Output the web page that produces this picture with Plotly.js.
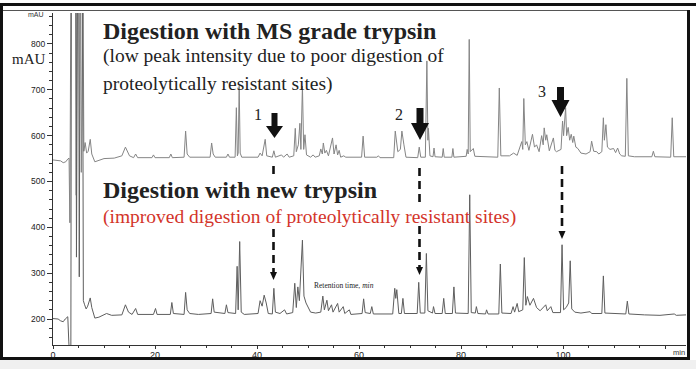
<!DOCTYPE html>
<html>
<head>
<meta charset="utf-8">
<script src="https://cdn.plot.ly/plotly-3.0.1.min.js"></script>
<style>
html,body{margin:0;padding:0;}
body{background:linear-gradient(to bottom,#ffffff 0px,#ffffff 360px,#f0f0f0 360px);}
#chart{width:696px;height:369px;}
</style>
</head>
<body>
<div id="chart"></div>
<script>
// ---- data: [retention time (min), absorbance (mAU)] ----
const msGradeTrace = [
 [0,547],[1.5,545],[2.0,541],[2.5,543],[2.9,549],[3.15,551],[3.3,410],[3.5,900],[4.45,900],[4.55,470],
 [4.7,900],[5.45,900],[5.55,520],[5.7,900],[5.9,900],[6.05,566],[6.3,585],[6.6,562],[6.9,566],[7.3,592],
 [7.6,560],[8.2,543],[9.0,546],[10.0,550],[12.0,551],[13.5,556],[14.2,575],[15.0,556],[15.8,552],[16.2,560],
 [16.6,552],[19.4,552],[19.7,558],[20.0,552],[22.8,552],[23.1,560],[23.4,552],[25.7,553],[26.0,610],[26.3,560],
 [26.8,553],[30.8,553],[31.1,584],[31.4,560],[31.8,553],[34.0,553],[34.3,560],[34.6,553],[35.7,553],[35.95,661],
 [36.15,556],[36.3,562],[36.5,708],[36.7,562],[37.0,553],[40.2,553],[40.6,562],[41.0,556],[41.6,592],[41.9,556],
 [43.0,553],[43.3,567],[43.6,553],[44.8,558],[45.2,553],[45.9,560],[46.3,553],[47.2,556],[47.5,616],[47.7,565],
 [48.1,580],[48.4,627],[48.6,570],[48.9,708],[49.15,570],[49.4,602],[49.7,558],[50.5,553],[51.0,558],[51.4,553],
 [52.2,556],[52.5,571],[52.8,560],[53.0,584],[53.3,562],[53.6,568],[54.0,556],[54.8,595],[55.1,560],[55.5,580],
 [55.8,558],[56.1,568],[56.4,553],[57.0,556],[57.4,553],[60.5,553],[60.8,599],[61.1,553],[63.5,553],[63.8,556],
 [64.1,552],[66.8,552],[67.1,610],[67.4,580],[67.6,565],[68.1,570],[68.4,610],[68.8,580],[69.2,553],[71.5,552],
 [71.8,575],[72.1,553],[73.0,553],[73.3,763],[73.5,590],[73.6,616],[73.9,556],[74.5,554],[74.7,573],[74.9,554],
 [76.3,553],[76.5,572],[76.7,553],[78.2,553],[78.4,572],[78.6,553],[81.0,555],[81.2,570],[81.4,560],[81.6,810],
 [81.8,565],[82.4,572],[82.7,555],[87.2,553],[87.5,704],[87.8,556],[89.5,556],[90.3,562],[91.0,557],[91.9,587],
 [92.1,570],[92.3,681],[92.6,580],[92.9,587],[93.3,568],[93.5,580],[94.0,603],[94.4,575],[94.8,580],[95.3,565],
 [95.8,600],[96.1,580],[96.3,617],[96.6,590],[96.8,602],[97.3,567],[98.1,595],[98.4,568],[98.7,565],[99.6,570],
 [99.9,632],[100.1,600],[100.5,661],[100.7,600],[101.0,618],[101.3,590],[101.6,603],[101.9,585],[102.1,599],[102.5,575],
 [102.9,572],[103.5,562],[104.5,560],[105.3,565],[105.6,588],[106.0,566],[106.6,565],[107.0,560],[107.6,565],[107.9,639],
 [108.1,590],[108.4,624],[108.7,575],[109.2,570],[109.9,572],[110.3,563],[110.7,573],[111.1,560],[111.5,556],[112.2,555],
 [112.5,725],[112.8,556],[114.0,554],[117.4,554],[117.7,566],[118.0,554],[121.1,553],[121.4,639],[121.7,554],[124.1,554]
];
const newTrypsinTrace = [
 [0,201],[1.0,200],[1.5,196],[2.0,194],[2.4,200],[2.9,205],[3.1,150],[3.3,110],[3.5,110],[3.6,900],
 [4.5,900],[4.6,335],[4.8,900],[5.05,900],[5.15,292],[5.3,900],[5.8,900],[5.95,240],[6.2,231],[6.5,222],
 [6.8,228],[7.3,246],[7.6,225],[8.2,202],[9.0,204],[10.5,212],[11.5,208],[13.5,209],[14.2,231],[14.8,215],
 [15.5,210],[16.2,223],[16.6,210],[19.7,210],[20.1,223],[20.4,210],[23.0,210],[23.3,236],[23.6,212],[25.7,210],
 [26.0,258],[26.3,220],[26.8,212],[28.5,210],[31.0,212],[31.3,244],[31.6,215],[33.7,212],[34.0,231],[34.3,214],
 [35.8,212],[36.1,315],[36.3,220],[36.6,369],[36.9,215],[37.5,210],[40.2,212],[40.6,240],[41.0,228],[41.4,252],
 [41.8,235],[42.2,212],[43.0,211],[43.3,267],[43.6,215],[44.5,212],[45.4,220],[45.8,211],[47.0,214],[47.4,278],
 [47.7,225],[48.0,270],[48.3,240],[48.6,300],[48.9,372],[49.2,250],[49.6,235],[50.5,215],[51.5,213],[52.5,215],
 [52.9,250],[53.2,220],[53.7,241],[54.0,218],[54.6,231],[54.9,215],[55.8,234],[56.1,215],[56.9,227],[57.2,212],
 [58.1,220],[58.4,210],[60.6,212],[60.9,244],[61.2,214],[62.2,212],[62.5,227],[62.8,211],[66.6,211],[67.0,267],
 [67.2,245],[67.4,264],[67.8,212],[68.3,212],[68.6,245],[68.9,212],[71.4,212],[71.7,280],[72.0,213],[72.9,213],
 [73.2,343],[73.5,218],[74.4,213],[74.6,227],[74.9,212],[76.3,212],[76.6,245],[76.9,212],[78.3,212],[78.6,270],
 [78.9,213],[81.4,212],[81.7,471],[82.0,214],[82.8,213],[83.0,227],[83.3,212],[84.8,211],[85.0,220],[85.3,211],
 [87.4,211],[87.7,320],[88.0,213],[89.8,212],[90.2,227],[90.5,215],[91.0,234],[91.3,216],[92.1,220],[92.4,334],
 [92.7,230],[93.0,249],[93.5,230],[94.2,245],[94.8,225],[95.5,218],[96.6,231],[96.9,218],[97.6,227],[98.0,214],
 [99.5,214],[99.8,362],[100.1,220],[100.6,225],[101.1,235],[101.4,327],[101.7,222],[102.3,215],[103.5,213],[105.3,216],
 [105.6,212],[107.6,212],[107.9,294],[108.2,213],[112.3,211],[112.6,239],[112.9,211],[116.0,209],[119.0,208],[121.8,211],
 [122.2,208],[124.1,209]
];
const xTickVals = [0, 20, 40, 60, 80, 100, 120];
const xTickText = ['0', '20', '40', '60', '80', '100', ''];
const yTickVals = [200, 300, 400, 500, 600, 700, 800];
const yTickText = ['200', '300', '400', '500', '600', '700', '800'];

// ---- layout geometry helpers (pixel -> paper) ----
const W = 696, H = 369, ML = 53, MR = 10, MT = 13, MB = 24;
const PW = W - ML - MR, PH = H - MT - MB;
const px = x => (x - ML) / PW;
const py = y => (H - MB - y) / PH;

function solidArrow(cx, top, headStart, tip, sw, hw) {
  const p = [[cx - sw/2, top], [cx + sw/2, top], [cx + sw/2, headStart], [cx + hw/2, headStart],
             [cx, tip], [cx - hw/2, headStart], [cx - sw/2, headStart]];
  return {type: 'path', xref: 'paper', yref: 'paper', fillcolor: '#111', line: {width: 0},
    path: 'M' + p.map(q => px(q[0]).toFixed(5) + ',' + py(q[1]).toFixed(5)).join(' L') + ' Z'};
}
function dashSeg(x, y0, y1) {
  return {type: 'line', xref: 'paper', yref: 'paper', x0: px(x), x1: px(x), y0: py(y0), y1: py(y1),
    line: {color: '#111', width: 2.6, dash: '8px,5px'}};
}
function smallHead(x, base, tip, w) {
  const p = [[x - w/2, base], [x + w/2, base], [x, tip]];
  return {type: 'path', xref: 'paper', yref: 'paper', fillcolor: '#111', line: {width: 0},
    path: 'M' + p.map(q => px(q[0]).toFixed(5) + ',' + py(q[1]).toFixed(5)).join(' L') + ' Z'};
}
function hLine(x0, x1, y, w, c) {
  return {type: 'line', xref: 'paper', yref: 'paper', layer: 'below', x0: px(x0), x1: px(x1), y0: py(y), y1: py(y),
    line: {color: c, width: w}};
}
function vLine(x, y0, y1, w, c) {
  return {type: 'line', xref: 'paper', yref: 'paper', layer: 'below', x0: px(x), x1: px(x), y0: py(y0), y1: py(y1),
    line: {color: c, width: w}};
}

const serif = 'Liberation Serif, Times New Roman, serif';
const sans = 'Liberation Sans, Arial, sans-serif';
function ann(x, y, text, size, opts) {
  return Object.assign({xref: 'paper', yref: 'paper', x: px(x), y: py(y), text: text, showarrow: false,
    xanchor: 'left', yanchor: 'middle', font: {family: serif, size: size, color: '#222'}}, opts || {});
}

const traces = [
  {x: msGradeTrace.map(p => p[0]), y: msGradeTrace.map(p => p[1]), type: 'scatter', mode: 'lines',
   line: {color: '#858585', width: 1}, hoverinfo: 'skip', name: 'MS grade trypsin'},
  {x: newTrypsinTrace.map(p => p[0]), y: newTrypsinTrace.map(p => p[1]), type: 'scatter', mode: 'lines',
   line: {color: '#5e5e5e', width: 1}, hoverinfo: 'skip', name: 'new trypsin'}
];

const layout = {
  width: W, height: H,
  margin: {l: ML, r: MR, t: MT, b: MB, pad: 0},
  paper_bgcolor: 'rgba(0,0,0,0)', plot_bgcolor: 'rgba(0,0,0,0)',
  showlegend: false,
  xaxis: {range: [0, 124.1], showgrid: false, zeroline: false, showline: true, linecolor: '#333', linewidth: 1,
    ticks: 'outside', ticklen: 3, tickwidth: 1, tickcolor: '#333', tickvals: xTickVals, ticktext: xTickText,
    ticklabelstandoff: -2,
    tickfont: {family: sans, size: 9, color: '#222'},
    minor: {dtick: 5, tick0: 0, ticks: 'outside', ticklen: 2, tickcolor: '#333', showgrid: false}},
  yaxis: {range: [143.3, 867.6], showgrid: false, zeroline: false, showline: true, linecolor: '#333', linewidth: 1,
    ticks: 'outside', ticklen: 5, tickwidth: 1, tickcolor: '#333', tickvals: yTickVals, ticktext: yTickText,
    tickfont: {family: sans, size: 8.5, color: '#222'},
    minor: {dtick: 20, tick0: 0, ticks: 'outside', ticklen: 3, tickcolor: '#333', showgrid: false}},
  shapes: [
    hLine(0, 696, 4.5, 3, '#111'),
    hLine(2, 688, 10.5, 1, '#555'),
    vLine(1.5, 4, 360, 3, '#111'),
    hLine(0, 690, 358.5, 3, '#111'),
    vLine(688.5, 10, 360, 3, '#111'),
    solidArrow(274.5, 113, 126, 138, 6, 17),
    solidArrow(420, 108, 123, 140, 7, 18),
    solidArrow(560.5, 87, 100, 117, 7, 18),
    dashSeg(273.5, 166, 176),
    dashSeg(273.5, 229, 272),
    smallHead(273.5, 272, 280, 7),
    dashSeg(419.5, 168, 202),
    dashSeg(419.5, 226, 267),
    smallHead(419.5, 267, 275, 7),
    dashSeg(562, 166, 231),
    smallHead(562, 231, 239, 7)
  ],
  annotations: [
    ann(101, 31, '<b>Digestion with MS grade trypsin</b>', 24),
    ann(101, 56, '(low peak intensity due to poor digestion of', 19.5),
    ann(101, 84, 'proteolytically resistant sites)', 19.5),
    ann(101, 190, '<b>Digestion with new trypsin</b>', 24),
    ann(101, 217, '(improved digestion of proteolytically resistant sites)', 19.5, {font: {family: serif, size: 19.5, color: '#d3342a'}}),
    ann(29, 59, 'mAU', 15, {xanchor: 'center'}),
    ann(258, 114, '1', 16, {xanchor: 'center'}),
    ann(399, 114, '2', 16, {xanchor: 'center'}),
    ann(542, 92, '3', 16, {xanchor: 'center'}),
    ann(344, 285, 'Retention time, <i>min</i>', 7.5, {xanchor: 'center'}),
    ann(46, 15, 'mAU', 7, {xanchor: 'right', font: {family: sans, size: 7, color: '#333'}}),
    ann(679, 352, 'min', 7.5, {xanchor: 'center', font: {family: sans, size: 7.5, color: '#333'}})
  ]
};

Plotly.newPlot('chart', traces, layout, {staticPlot: true, displayModeBar: false});
</script>
</body>
</html>
